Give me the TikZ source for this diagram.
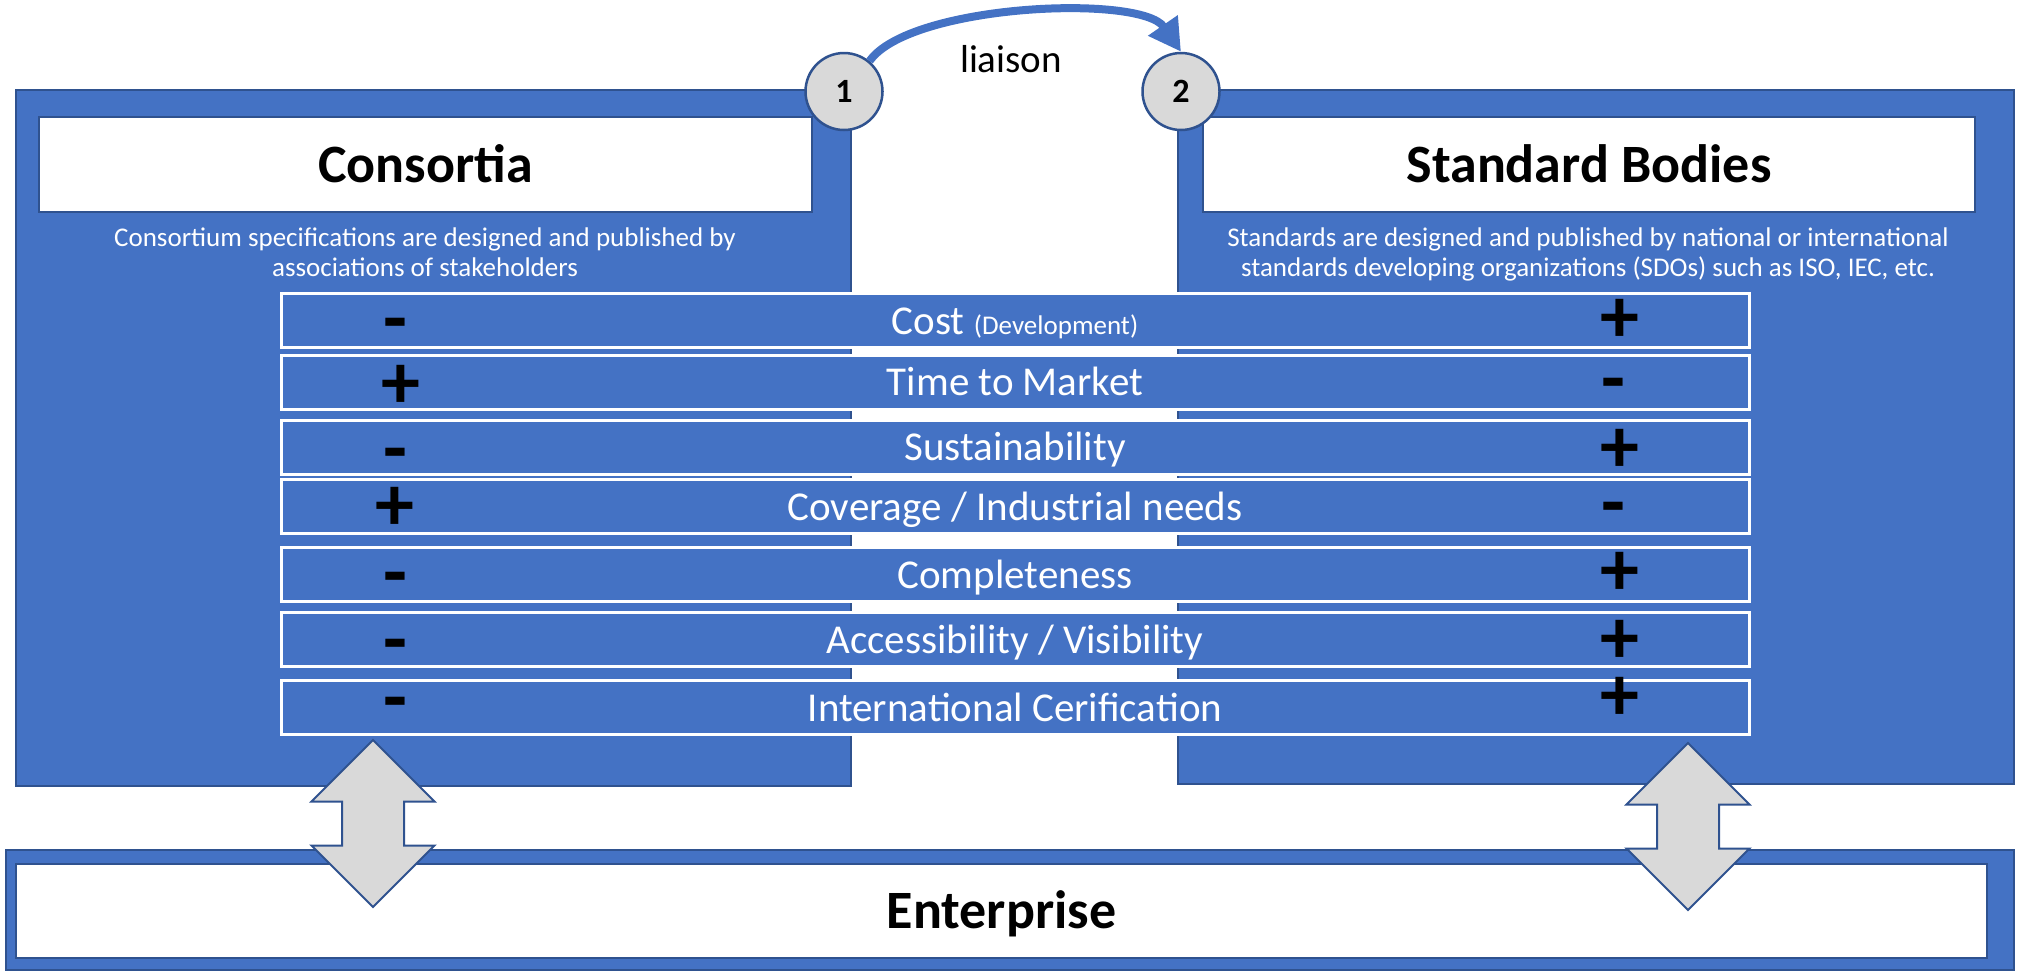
\documentclass[tikz,border=0pt]{standalone}
\usepackage{fontspec}
\setmainfont{Carlito}
\usetikzlibrary{arrows.meta,shapes.arrows}
\definecolor{pBlue}{RGB}{68,114,196}
\definecolor{pEdge}{RGB}{47,82,143}
\definecolor{pGray}{RGB}{217,217,217}
\tikzset{
    panel/.style={rectangle, draw=pEdge, line width=2pt, fill=pBlue, inner sep=0pt},
    titlebox/.style={rectangle, draw=pEdge, line width=2pt, fill=white, inner sep=0pt, font=\fontsize{54}{60}\selectfont\bfseries, text height=35.5pt, text depth=0pt},
    crit/.style={rectangle, draw=white, line width=3pt, fill=pBlue, inner sep=0pt, minimum width=1468pt, minimum height=54pt, text=white, font=\fontsize{41}{48}\selectfont, text height=27pt, text depth=0pt},
    sgn/.style={inner sep=0pt, font=\fontsize{78}{80}\selectfont\bfseries, text height=47pt, text depth=0pt},
    note/.style={align=center, text=white, inner sep=0pt, font=\fontsize{27}{30}\selectfont},
    num/.style={circle, draw=pEdge, line width=2.5pt, fill=pGray, inner sep=0pt, minimum size=77pt, font=\fontsize{34}{40}\selectfont\bfseries},
    updown/.style={double arrow, draw=pEdge, line width=2pt, fill=pGray, rotate=90, inner xsep=0pt, inner ysep=30pt, minimum height=167pt, double arrow head extend=30.5pt, double arrow tip angle=90}
}
\begin{document}
\begin{tikzpicture}[x=1pt,y=-1pt]
\useasboundingbox (0,0) rectangle (2018,970);
\node[panel, minimum width=835pt, minimum height=696pt] (cons) at (433.5,438) {};
\node[panel, minimum width=836pt, minimum height=694pt] (sdo) at (1596,437) {};
\node[titlebox, minimum width=773pt, minimum height=95pt] (consT) at (425.5,164.5) {Consortia};
\node[titlebox, minimum width=772pt, minimum height=95pt] (sdoT) at (1589,164.5) {Standard Bodies};
\node[note] (consN) at (425,252) {Consortium specifications are designed and published by\\associations of stakeholders};
\node[note] (sdoN) at (1588,254) {Standards are designed and published by national or international\\standards developing organizations (SDOs) such as ISO, IEC, etc.};
\node[crit] (r1) at (1015,320.5) {Cost {\fontsize{27}{30}\selectfont(Development)}};
\node[crit] (r2) at (1015,382) {Time to Market};
\node[crit] (r3) at (1015,447) {Sustainability};
\node[crit] (r4) at (1015,506.5) {Coverage / Industrial needs};
\node[crit] (r5) at (1015,574.5) {Completeness};
\node[crit] (r6) at (1015,639.5) {Accessibility / Visibility};
\node[crit] (r7) at (1015,707.5) {International Cerification};
\node[sgn] (l1) at (395,321) {-};
\node[sgn] (l2) at (401,385) {+};
\node[sgn] (l3) at (395,451) {-};
\node[sgn] (l4) at (395,507) {+};
\node[sgn] (l5) at (395,575) {-};
\node[sgn] (l6) at (395,642) {-};
\node[sgn] (l7) at (395,700) {-};
\node[sgn] (s1) at (1620,319) {+};
\node[sgn] (s2) at (1613,381) {-};
\node[sgn] (s3) at (1620,449) {+};
\node[sgn] (s4) at (1613,505) {-};
\node[sgn] (s5) at (1620,572) {+};
\node[sgn] (s6) at (1620,640) {+};
\node[sgn] (s7) at (1620,697) {+};
\node[num] (n1) at (844,91.5) {1};
\node[num] (n2) at (1181,91.5) {2};
\draw[pBlue, line width=8pt, -{Triangle[length=32pt,width=34pt]}] (n1.50) .. controls +(40,-57) and +(-40,-58) .. (n2.north);
\node[font=\fontsize{39}{44}\selectfont, anchor=base] (liai) at (1011,72) {liaison};
\node[panel, minimum width=2008pt, minimum height=120pt] (entB) at (1010,910) {};
\node[titlebox, minimum width=1971pt, minimum height=94pt] (ent) at (1001.5,911) {Enterprise};
\node[updown] (a1) at (373,823.5) {};
\node[updown] (a2) at (1688,826.5) {};
\end{tikzpicture}
\end{document}
